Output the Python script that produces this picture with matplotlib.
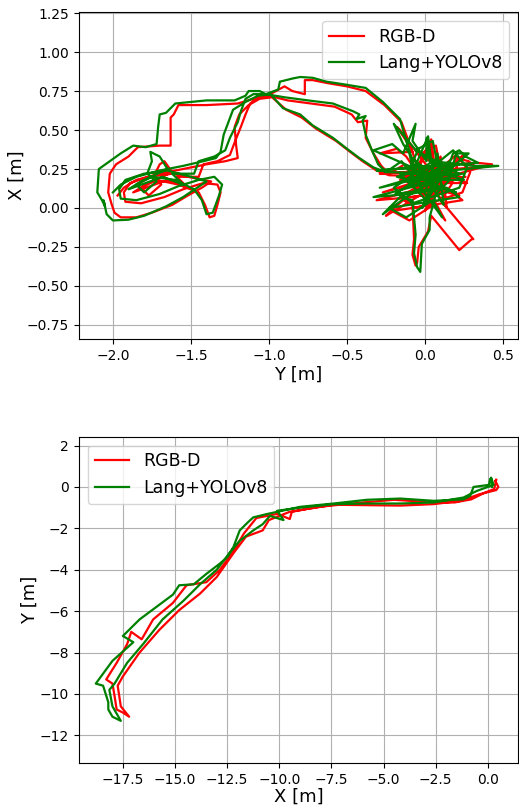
import matplotlib
matplotlib.use("Agg")
import matplotlib.pyplot as plt
import numpy as np

# ---------------- Top plot data (horizontal: Y [m], vertical: X [m]) ----------------
green_top = [
    (0.00, 0.25), (-0.08, 0.32), (0.05, 0.18), (-0.12, 0.13), (0.16, 0.30), (0.01, 0.05), (-0.16, 0.22),
    (0.22, 0.22), (-0.06, 0.37), (0.05, 0.43), (0.11, 0.13), (-0.19, 0.09), (-0.03, 0.20), (0.18, 0.37),
    (0.27, 0.26), (0.22, 0.13), (-0.08, 0.03), (-0.20, 0.13), (0.05, 0.30), (0.31, 0.27), (0.47, 0.27),
    (0.16, 0.24), (-0.12, 0.07), (-0.27, -0.04), (-0.25, -0.02), (-0.16, 0.07),
    (-0.08, 0.05), (-0.06, -0.17), (-0.07, -0.29), (-0.05, -0.38), (-0.03, -0.41), (-0.02, -0.23),
    (0.03, -0.14), (0.03, -0.06), (0.07, 0.09), (0.15, 0.17), (0.20, 0.35), (0.28, 0.35), (0.10, 0.20),
    (-0.10, 0.25), (-0.05, 0.36),
    (-0.20, 0.54), (-0.14, 0.41), (-0.10, 0.35), (-0.08, 0.26), (-0.33, 0.37), (-0.21, 0.41), (-0.14, 0.35),
    (-0.06, 0.54), (-0.08, 0.43), (0.01, 0.30), (0.01, 0.45), (0.03, 0.30), (0.14, 0.24), (0.18, 0.35),
    (0.22, 0.37), (0.26, 0.33), (0.34, 0.29), (-0.31, 0.24), (-0.08, 0.26), (0.22, 0.28), (-0.29, 0.13),
    (0.01, 0.20), (0.24, 0.22), (-0.33, 0.07), (-0.10, 0.09), (0.14, 0.13), (0.22, 0.07), (-0.23, 0.00),
    (-0.12, -0.06), (0.05, 0.05), (0.11, -0.06), (-0.02, 0.12), (-0.12, 0.43),
    (-0.16, 0.57), (-0.27, 0.68), (-0.38, 0.77), (-0.50, 0.79), (-0.63, 0.81), (-0.72, 0.835),
    (-0.80, 0.84), (-0.85, 0.83), (-0.93, 0.81), (-0.94, 0.76), (-1.02, 0.73),
    (-1.06, 0.75), (-1.13, 0.75), (-1.15, 0.72), (-1.22, 0.69), (-1.40, 0.69), (-1.60, 0.67), (-1.66, 0.61),
    (-1.70, 0.60), (-1.71, 0.52), (-1.72, 0.41), (-1.79, 0.39), (-1.87, 0.40), (-1.95, 0.35), (-2.02, 0.30),
    (-2.09, 0.25), (-2.10, 0.10), (-2.07, 0.05), (-2.05, 0.01), (-2.06, 0.05),
    (-2.04, -0.04), (-2.00, -0.08), (-1.90, -0.075), (-1.80, -0.05), (-1.66, 0.01), (-1.55, 0.07),
    (-1.46, 0.13), (-1.40, 0.17),
    (-1.50, 0.20), (-1.65, 0.24), (-1.80, 0.22), (-1.92, 0.18), (-1.96, 0.12), (-1.95, 0.06), (-1.85, 0.05),
    (-1.70, 0.09), (-1.58, 0.14), (-1.45, 0.18), (-1.35, 0.20), (-1.30, 0.15), (-1.32, 0.08), (-1.36, -0.03),
    (-1.40, -0.04), (-1.43, 0.05), (-1.48, 0.12), (-1.60, 0.18), (-1.75, 0.20), (-1.85, 0.15), (-1.80, 0.10),
    (-1.72, 0.17), (-1.78, 0.22), (-1.75, 0.30), (-1.76, 0.36), (-1.70, 0.33), (-1.65, 0.25),
    (-1.82, 0.17), (-1.90, 0.12), (-1.68, 0.20), (-1.55, 0.15), (-1.62, 0.22), (-1.48, 0.22),
    (-1.45, 0.30), (-1.35, 0.33), (-1.28, 0.37), (-1.25, 0.45), (-1.20, 0.55), (-1.18, 0.62), (-1.15, 0.70),
    (-1.10, 0.73), (-1.02, 0.73),
    (-0.90, 0.71), (-0.75, 0.69), (-0.59, 0.67), (-0.46, 0.62), (-0.42, 0.60), (-0.44, 0.57), (-0.38, 0.59),
    (-0.40, 0.56), (-0.38, 0.47), (-0.34, 0.37), (-0.30, 0.28), (-0.25, 0.23),
    (-0.15, 0.30), (0.00, 0.10), (0.08, 0.35), (0.12, 0.02), (-0.05, 0.28), (0.25, 0.18), (-0.10, 0.18),
    (0.02, 0.46), (0.06, 0.15), (0.20, 0.10), (-0.18, 0.20), (0.10, 0.28), (-0.02, 0.00), (0.12, 0.22),
    (-0.25, 0.23),
    (-0.33, 0.26), (-0.42, 0.32), (-0.50, 0.38), (-0.59, 0.45), (-0.72, 0.53), (-0.80, 0.60), (-0.91, 0.64),
    (-0.99, 0.73),
    (-1.07, 0.72), (-1.15, 0.68), (-1.23, 0.63), (-1.26, 0.55), (-1.29, 0.47), (-1.31, 0.36), (-1.34, 0.32),
    (-1.42, 0.30), (-1.55, 0.27), (-1.70, 0.24), (-1.85, 0.20), (-1.95, 0.15), (-2.00, 0.10),
]

red_top = [
    (0.02, 0.24), (-0.06, 0.30), (0.08, 0.15), (-0.10, 0.10), (0.18, 0.27), (0.03, 0.03), (-0.14, 0.20),
    (0.24, 0.19), (-0.04, 0.34), (0.07, 0.40), (0.13, 0.10), (-0.17, 0.06), (0.00, 0.17), (0.20, 0.34),
    (0.29, 0.23), (0.24, 0.10), (-0.06, 0.00), (-0.18, 0.10), (0.07, 0.27), (0.33, 0.29), (0.43, 0.28),
    (0.18, 0.21), (-0.10, 0.04), (-0.25, -0.05), (-0.22, -0.02), (-0.14, 0.05),
    (-0.08, 0.02), (-0.07, -0.20), (-0.08, -0.30), (-0.06, -0.37), (-0.05, -0.35), (-0.04, -0.25),
    (0.02, -0.15), (0.04, -0.05), (0.22, -0.27), (0.30, -0.20), (0.31, -0.20), (0.10, 0.05), (0.17, 0.15),
    (0.22, 0.32), (0.25, 0.34), (0.08, 0.18), (-0.16, 0.50), (-0.18, 0.52), (-0.12, 0.43), (-0.08, 0.36),
    (-0.29, 0.35), (-0.18, 0.38), (-0.12, 0.33), (-0.06, 0.24), (0.03, 0.42), (0.05, 0.28), (0.16, 0.22),
    (0.20, 0.32), (0.28, 0.30), (0.33, 0.26), (-0.29, 0.22), (0.20, 0.25), (-0.27, 0.10), (0.03, 0.18),
    (0.26, 0.20), (-0.31, 0.05), (-0.08, 0.07), (0.16, 0.11), (0.24, 0.05), (-0.21, -0.02), (-0.10, -0.08),
    (0.07, 0.03), (0.13, -0.08), (0.00, 0.10), (-0.08, 0.36),
    (-0.15, 0.55), (-0.26, 0.66), (-0.38, 0.75), (-0.50, 0.78), (-0.62, 0.80), (-0.72, 0.82), (-0.77, 0.82),
    (-0.77, 0.73), (-0.85, 0.75), (-0.90, 0.78), (-1.01, 0.72),
    (-1.10, 0.70), (-1.20, 0.67), (-1.40, 0.66), (-1.58, 0.66), (-1.61, 0.60), (-1.63, 0.58), (-1.63, 0.40),
    (-1.70, 0.40), (-1.84, 0.39), (-1.90, 0.33), (-1.98, 0.28), (-2.02, 0.22), (-2.03, 0.10), (-2.01, 0.03),
    (-1.99, -0.03), (-1.95, -0.06), (-1.85, -0.06), (-1.75, -0.03), (-1.62, 0.02), (-1.52, 0.08),
    (-1.43, 0.13), (-1.37, 0.17),
    (-1.47, 0.19), (-1.62, 0.22), (-1.77, 0.20), (-1.89, 0.16), (-1.93, 0.10), (-1.92, 0.04), (-1.82, 0.03),
    (-1.67, 0.07), (-1.55, 0.12), (-1.42, 0.16), (-1.33, 0.15), (-1.31, 0.10), (-1.33, 0.02), (-1.35, -0.05),
    (-1.38, -0.06), (-1.41, 0.02), (-1.45, 0.10), (-1.58, 0.15), (-1.72, 0.18), (-1.82, 0.13), (-1.77, 0.08),
    (-1.69, 0.15), (-1.74, 0.20), (-1.70, 0.28), (-1.67, 0.30), (-1.62, 0.23),
    (-1.79, 0.15), (-1.87, 0.10), (-1.65, 0.18), (-1.52, 0.13), (-1.59, 0.20), (-1.45, 0.20),
    (-1.42, 0.28), (-1.33, 0.30), (-1.25, 0.34), (-1.22, 0.42), (-1.18, 0.52), (-1.15, 0.60), (-1.12, 0.67),
    (-1.07, 0.71), (-1.00, 0.72),
    (-0.88, 0.69), (-0.73, 0.67), (-0.58, 0.65), (-0.47, 0.60), (-0.43, 0.55), (-0.37, 0.56), (-0.38, 0.45),
    (-0.33, 0.35), (-0.28, 0.27), (-0.23, 0.22),
    (-0.13, 0.28), (0.02, 0.08), (0.10, 0.33), (0.14, 0.00), (-0.03, 0.26), (0.27, 0.16), (-0.08, 0.16),
    (0.04, 0.44), (0.08, 0.13), (0.22, 0.08), (-0.16, 0.18), (0.12, 0.26), (0.00, -0.02), (0.14, 0.20),
    (-0.23, 0.21),
    (-0.31, 0.24), (-0.40, 0.30), (-0.48, 0.36), (-0.57, 0.43), (-0.70, 0.51), (-0.79, 0.58), (-0.89, 0.63),
    (-0.98, 0.71),
    (-1.06, 0.70), (-1.13, 0.66), (-1.19, 0.60), (-1.22, 0.52), (-1.21, 0.40), (-1.20, 0.32), (-1.28, 0.30),
    (-1.40, 0.28), (-1.55, 0.25), (-1.70, 0.22), (-1.85, 0.18), (-1.93, 0.13), (-1.97, 0.08),
]

# ---------------- Bottom plot data (horizontal: X [m], vertical: Y [m]) ----------------
green_bottom = [
    (0.10, 0.37), (0.05, 0.10), (-0.69, 0.00), (-0.85, -0.43), (-1.17, -0.60), (-2.6, -0.67), (-4.2, -0.56),
    (-5.8, -0.62), (-7.4, -0.80), (-9.0, -0.96), (-10.6, -1.31), (-11.25, -1.47), (-11.5, -1.70),
    (-11.9, -2.10), (-12.2, -2.90), (-12.5, -3.40), (-12.85, -3.70), (-13.5, -4.20), (-14.1, -4.70),
    (-14.8, -4.75), (-15.1, -5.20), (-15.9, -5.80), (-16.7, -6.40), (-17.5, -7.20), (-17.0, -7.50),
    (-18.0, -8.40), (-18.8, -9.50), (-18.45, -9.60), (-18.2, -10.40), (-18.2, -10.75), (-18.0, -11.10),
    (-17.6, -11.30), (-18.0, -10.60), (-18.15, -9.80), (-17.9, -9.50), (-17.3, -8.50), (-16.5, -7.55),
    (-15.6, -6.40), (-14.6, -5.50), (-13.8, -4.70), (-13.0, -4.00), (-12.4, -3.20), (-11.9, -2.60),
    (-11.25, -2.10), (-10.8, -1.80), (-10.45, -1.40), (-9.8, -1.60), (-10.1, -1.15), (-9.0, -1.00),
    (-7.4, -0.83), (-5.8, -0.80), (-4.2, -0.80), (-2.6, -0.75), (-1.17, -0.51), (-0.53, -0.19),
    (0.27, 0.10), (0.15, 0.45), (0.20, 0.00),
]

red_bottom = [
    (0.35, 0.30), (0.50, 0.00), (0.40, -0.15), (-0.40, -0.35), (-1.3, -0.67), (-2.6, -0.83), (-4.2, -0.90),
    (-5.8, -0.88), (-7.4, -0.86), (-8.6, -1.05), (-9.4, -1.20), (-9.5, -1.55), (-10.1, -1.30), (-11.1, -1.50),
    (-11.7, -2.25), (-12.2, -3.10), (-12.85, -4.00), (-13.5, -4.60), (-14.45, -4.75), (-15.1, -5.60),
    (-16.05, -6.40), (-16.6, -7.36), (-17.1, -7.00), (-17.3, -7.60), (-17.8, -8.50), (-18.3, -9.30),
    (-18.0, -9.50), (-17.9, -10.10), (-17.8, -10.75), (-17.5, -10.90), (-17.2, -11.10), (-17.6, -10.60),
    (-17.75, -9.60), (-17.5, -9.15), (-16.7, -8.00), (-15.75, -6.90), (-14.8, -5.95), (-13.8, -5.15),
    (-13.0, -4.35), (-12.2, -3.20), (-11.6, -2.40), (-10.8, -2.10), (-10.5, -1.60), (-9.5, -1.20),
    (-8.0, -0.95), (-6.0, -0.75), (-4.5, -0.62), (-3.0, -0.72), (-1.6, -0.75), (-0.8, -0.60), (-0.2, -0.30),
    (0.30, -0.10), (0.40, 0.35),
]

top_xticks = [-2.0, -1.5, -1.0, -0.5, 0.0, 0.5]
top_yticks = [-0.75, -0.50, -0.25, 0.00, 0.25, 0.50, 0.75, 1.00, 1.25]
bot_xticks = [-17.5, -15.0, -12.5, -10.0, -7.5, -5.0, -2.5, 0.0]
bot_yticks = [-12, -10, -8, -6, -4, -2, 0, 2]

fig = plt.figure(figsize=(5.19, 8.09), dpi=100)

ax1 = fig.add_axes([0.152, 0.581, 0.846, 0.404])
ax2 = fig.add_axes([0.152, 0.057, 0.846, 0.403])

def draw(ax, red, green):
    r = np.array(red)
    g = np.array(green)
    ax.plot(r[:, 0], r[:, 1], color='red', lw=1.6, label='RGB-D')
    ax.plot(g[:, 0], g[:, 1], color='green', lw=1.6, label='Lang+YOLOv8')
    ax.grid(True, color='#b0b0b0', lw=0.8)
    ax.tick_params(labelsize=10)

draw(ax1, red_top, green_top)
ax1.set_xlim(-2.218, 0.596)
ax1.set_ylim(-0.84, 1.256)
ax1.set_xticks(top_xticks)
ax1.set_yticks(top_yticks)
ax1.set_xlabel('Y [m]', fontsize=13, labelpad=2)
ax1.set_ylabel('X [m]', fontsize=13, labelpad=1)
ax1.legend(loc='upper right', fontsize=12.5)

draw(ax2, red_bottom, green_bottom)
ax2.set_xlim(-19.61, 1.44)
ax2.set_ylim(-13.33, 2.42)
ax2.set_xticks(bot_xticks)
ax2.set_yticks(bot_yticks)
ax2.set_xlabel('X [m]', fontsize=13, labelpad=1)
ax2.set_ylabel('Y [m]', fontsize=13, labelpad=1)
ax2.legend(loc='upper left', fontsize=12.5)

fig.savefig('out.png', dpi=100)
